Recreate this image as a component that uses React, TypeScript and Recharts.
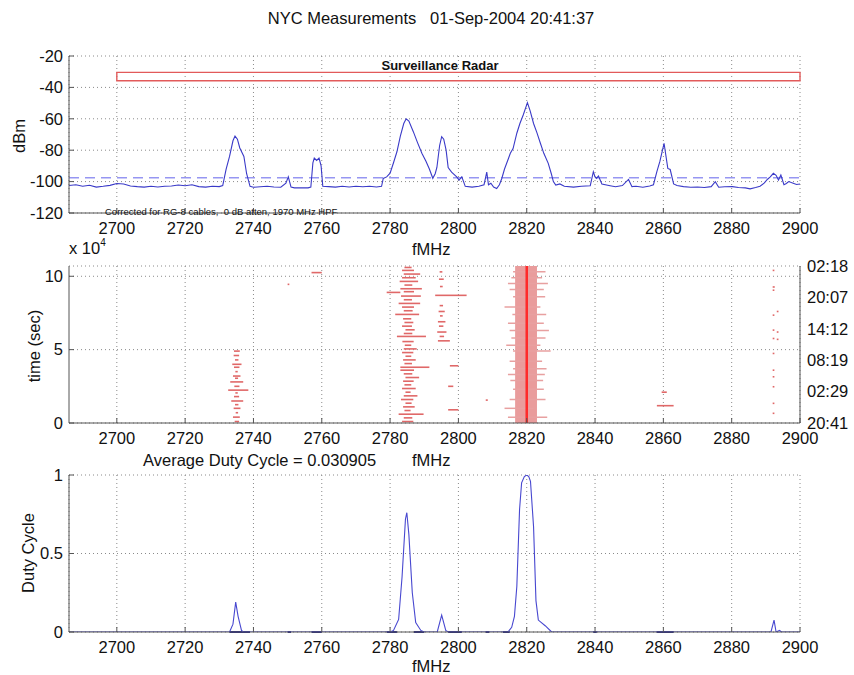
import { ComposedChart, Line, Area, Scatter, ErrorBar, XAxis, YAxis, CartesianGrid, ReferenceLine, ReferenceArea } from 'recharts'

// axes
const freqDomain = [2686, 2900]
const freqTicks = [2700, 2720, 2740, 2760, 2780, 2800, 2820, 2840, 2860, 2880, 2900]
const dbmTicks = [-120, -100, -80, -60, -40, -20]
const timeTicks = [0, 5, 10]
const clockTicks = [0, 2.14, 4.28, 6.42, 8.56, 10.7]
const clockLabels = ['20:41', '02:29', '08:19', '14:12', '20:07', '02:18']
const dutyTicks = [0, 0.5, 1]

// top panel: spectrum [fMHz, dBm]
const spectrum: [number, number][] = [
  [2686, -102.5], [2688, -102], [2690, -103], [2692, -102.3], [2694, -103.5], [2696, -103], [2698, -102.4],
  [2700, -101.2], [2702, -101.5], [2704, -102.8], [2706, -103.2], [2708, -103.5], [2710, -103], [2712, -103.4],
  [2714, -103], [2716, -102.8], [2718, -102.2], [2720, -102.6], [2722, -102], [2724, -103.2], [2726, -103.5],
  [2728, -103], [2730, -103.2], [2731, -102.5], [2732, -92], [2733, -84], [2734, -74], [2734.6, -71],
  [2735.3, -73], [2736, -78.6], [2737.2, -84], [2738, -95], [2739, -103], [2740, -103.6], [2742, -103.3],
  [2744, -103], [2746, -103.4], [2748, -103.6], [2749.5, -101], [2750.2, -97], [2751, -103.5], [2752, -104],
  [2754, -104], [2756, -104], [2756.8, -103.5], [2757.4, -88], [2757.8, -85], [2758.5, -86.5], [2759.2, -85],
  [2759.8, -90], [2760.3, -103], [2762, -103.2], [2764, -103.5], [2766, -103], [2768, -103.4], [2770, -103],
  [2772, -103.3], [2774, -103], [2776, -103.4], [2777.5, -103], [2778, -98], [2779, -97], [2780, -94.6],
  [2781, -88], [2782, -81], [2783, -71], [2784, -63], [2784.7, -60], [2785.5, -61.5], [2786.8, -68.2],
  [2788, -75], [2789.3, -81.9], [2790.5, -87], [2791.5, -92], [2792.5, -97.9], [2793.2, -95], [2793.7, -91],
  [2794.5, -77], [2795.1, -71.4], [2795.7, -73], [2796.4, -80], [2797, -91], [2798, -94], [2799.5, -97],
  [2800.2, -99], [2801, -96.9], [2802, -103], [2804, -103.5], [2806, -103], [2807.5, -102], [2808.3, -94],
  [2808.8, -102], [2809.5, -101], [2810.3, -103.5], [2811.2, -104.4], [2812, -102], [2812.7, -98],
  [2813.5, -92], [2814.7, -85], [2815.2, -82], [2816, -79], [2817.1, -69.2], [2818, -63], [2819, -57.4],
  [2820.2, -49.7], [2821, -55], [2822, -63], [2823, -69], [2824, -75.6], [2825, -82], [2826.3, -88.4],
  [2827.2, -95], [2827.8, -100], [2828.5, -102.2], [2829.7, -101.5], [2831, -103], [2833.7, -103.5],
  [2836, -103], [2838.6, -102.6], [2839.5, -93.7], [2840, -97], [2840.4, -98], [2841, -96.5], [2842, -101.5],
  [2844.4, -102.6], [2846, -103.3], [2848, -102.5], [2849.8, -98.6], [2850.8, -103.2], [2852, -103],
  [2854, -103.6], [2856, -102.8], [2857.1, -102], [2858.1, -93.7], [2859, -87], [2860.2, -75.6],
  [2861.3, -91.6], [2862, -92.3], [2863, -101.5], [2864, -102.5], [2865.9, -103.2], [2868, -103.6],
  [2870, -103.4], [2872, -103.8], [2874, -103.2], [2875.2, -100], [2876.2, -103.6], [2878, -103.3],
  [2880.2, -103.2], [2882, -103.8], [2884, -104], [2885.4, -104.6], [2887, -103.8], [2888.3, -103],
  [2889.5, -101], [2890.5, -98.5], [2891.3, -97], [2892.2, -94.7], [2893, -96], [2893.7, -99],
  [2894.4, -95.8], [2895.3, -102], [2896, -101.2], [2896.7, -100], [2898, -101], [2899, -101.8], [2900, -101.5],
]
const thresholdDbm = -97.5
const radarBand = { f1: 2700, f2: 2900, top: -30.4, bottom: -35.8 }

// middle panel: detections [time x1e4 s, f low, f high]
const hits2735: [number, number, number][] = [
  [0.1, 2734.5, 2735.8], [0.4, 2734, 2736], [0.7, 2734.8, 2735.5], [1.0, 2734.2, 2736.2], [1.25, 2734.6, 2735.6],
  [1.5, 2733.5, 2737], [1.8, 2734.3, 2735.8], [2.05, 2734.7, 2735.4], [2.24, 2732.6, 2738.5], [2.5, 2734.4, 2735.9],
  [2.8, 2733.2, 2737], [3.05, 2734.6, 2735.5], [3.2, 2734, 2736.2], [3.5, 2734.7, 2735.4], [3.8, 2734.3, 2735.9],
  [4.0, 2733.8, 2736.5], [4.3, 2734.6, 2735.6], [4.6, 2734.2, 2735.8], [4.9, 2734.3, 2736],
]
const hits2785: [number, number, number][] = [
  [0.1, 2783.5, 2786.8], [0.35, 2784, 2786.5], [0.6, 2782.5, 2789.8], [0.85, 2784.2, 2786], [1.1, 2783.8, 2787.2],
  [1.35, 2784.5, 2786.3], [1.6, 2783.2, 2786.8], [1.85, 2784, 2788], [2.1, 2784.5, 2786], [2.35, 2783.5, 2787.5],
  [2.6, 2784.2, 2786.2], [2.85, 2783.8, 2786.9], [3.1, 2784.5, 2788.5], [3.35, 2784, 2786.5], [3.6, 2783, 2787],
  [3.8, 2783, 2791.5], [4.05, 2784.2, 2786.4], [4.3, 2783.8, 2787.5], [4.55, 2784.5, 2786.2], [4.8, 2783.5, 2786.8],
  [5.05, 2784, 2787.8], [5.3, 2784.3, 2786.2], [5.55, 2783.6, 2786.9], [5.9, 2782, 2790.5], [6.1, 2784, 2786.5],
  [6.35, 2784.5, 2787.2], [6.6, 2783.5, 2786.4], [6.85, 2784.2, 2786.8], [7.1, 2783.8, 2786.2], [7.4, 2781.5, 2788.5],
  [7.65, 2784, 2786.6], [7.9, 2783.5, 2787], [8.15, 2782.5, 2788.8], [8.4, 2784, 2786.4], [8.65, 2783.2, 2789],
  [8.9, 2779, 2783], [8.95, 2784, 2787], [9.15, 2783, 2789.3], [9.4, 2784.2, 2786.5], [9.65, 2782.8, 2788.2],
  [9.9, 2783.5, 2787.5], [10.15, 2784, 2788.8], [10.4, 2783.5, 2787], [10.6, 2784.2, 2786.3],
]
const hits2795: [number, number, number][] = [
  [5.6, 2794, 2797.5], [5.9, 2794.5, 2795.8], [6.2, 2793.8, 2796.5], [6.6, 2794.3, 2795.6], [6.9, 2794, 2796.2],
  [7.3, 2794.6, 2795.4], [7.6, 2794.2, 2796], [8.0, 2794.5, 2795.5], [8.7, 2793.2, 2802.4], [9.3, 2794.6, 2795.4],
  [9.8, 2794.3, 2795.7], [10.3, 2794.5, 2795.3], [3.9, 2797.5, 2800], [2.5, 2797, 2798.5], [0.9, 2797, 2800],
]
const hits2820: [number, number, number][] = [
  [0.4, 2814.5, 2826], [1.0, 2813.5, 2822], [1.6, 2815, 2825.5], [2.3, 2816, 2825], [2.9, 2815.2, 2824.8],
  [3.3, 2814.5, 2825.3], [3.7, 2816, 2825.8], [4.2, 2815, 2824.5], [4.9, 2816, 2827], [5.3, 2814, 2824],
  [5.8, 2815.5, 2825.5], [6.3, 2815, 2826.5], [6.8, 2814.5, 2825], [7.4, 2815.8, 2825.7], [7.9, 2813.5, 2824],
  [8.6, 2816, 2825.4], [9.1, 2815, 2825], [9.5, 2814.5, 2826.2], [9.9, 2815.5, 2824.5], [10.3, 2816, 2825.5],
]
const hitsOther: [number, number, number][] = [
  [10.25, 2757, 2760], [9.45, 2750, 2750.5], [1.56, 2808, 2808.6], [1.18, 2858.1, 2863], [2.1, 2859.5, 2861],
  [10.4, 2892, 2892.5], [9.27, 2892, 2892.6], [9.05, 2892, 2892.5], [7.35, 2892, 2892.5], [6.33, 2892, 2892.5],
  [5.76, 2892, 2892.5], [4.74, 2892, 2892.5], [3.6, 2892, 2892.5], [3.15, 2892, 2892.5], [2.47, 2892, 2892.5],
  [1.34, 2892, 2892.5], [0.66, 2892, 2892.5], [7.6, 2893.2, 2893.7], [6.2, 2893.2, 2893.7], [5.7, 2893.2, 2893.7],
]
const coreBand = { f1: 2816.6, f2: 2823, tEnd: 10.7 }
const coreCarrier = { f: 2820, tStart: 0, tEnd: 10.7 }

// bottom panel: duty cycle [fMHz, duty]
const duty: [number, number][] = [
  [2686, 0], [2733, 0], [2734, 0.05], [2734.8, 0.19], [2735.5, 0.1], [2736.5, 0.01], [2737, 0], [2780, 0],
  [2781, 0.01], [2782.5, 0.08], [2783.5, 0.35], [2784.5, 0.72], [2784.9, 0.76], [2785.5, 0.62], [2786.5, 0.25],
  [2787.5, 0.06], [2789, 0.01], [2790, 0], [2793.8, 0], [2795.1, 0.108], [2796.3, 0.01], [2797, 0], [2814.5, 0],
  [2815.6, 0.03], [2816.4, 0.1], [2817.1, 0.29], [2817.9, 0.78], [2818.5, 0.95], [2819.3, 0.99], [2820, 1.0],
  [2820.6, 0.99], [2821.1, 0.96], [2822, 0.67], [2822.7, 0.2], [2823.4, 0.076], [2825.4, 0.04], [2827.3, 0],
  [2891.5, 0], [2892.4, 0.076], [2893, 0], [2894, 0.01], [2894.6, 0], [2900, 0],
]
const dutyLow: [number, number][] = [
  [2733, 2739], [2750, 2751], [2757, 2760], [2779, 2782], [2787, 2790], [2797, 2801], [2808, 2809],
  [2813, 2815], [2839.5, 2840.5], [2858, 2863],
]

const spectrumRows = spectrum.map(([f, dbm]) => ({ f, dbm }))
const toHits = (segs: [number, number, number][]) => segs.map(([t, lo, hi]) => ({ f: (lo + hi) / 2, t, e: (hi - lo) / 2 }))
const hitRows = [...toHits(hits2735), ...toHits(hits2785), ...toHits(hits2795), ...toHits(hitsOther)]
const spurRows = toHits(hits2820)
const bandRows = [{ f: coreBand.f1, t: coreBand.tEnd }, { f: coreBand.f2, t: coreBand.tEnd }]
const carrierRows = [{ f: coreCarrier.f, t: (coreCarrier.tStart + coreCarrier.tEnd) / 2, ey: (coreCarrier.tEnd - coreCarrier.tStart) / 2 }]
// the carrier hides the 2820 grid line in the waterfall
const waterfallGridX = freqTicks.filter((f) => f !== coreCarrier.f)
const dutyRows = duty.map(([f, v]) => ({ f, v }))
const dutyLowRows = dutyLow.map(([lo, hi]) => ({ f: (lo + hi) / 2, v: 0, e: (hi - lo) / 2 }))

const AXIS = '#555'
const GRID = '#8a8a8a'
const FS = 16.5
const tickStyle = { fill: '#111', fontSize: FS }
const blank = () => ''
const noDot = () => <g />

function Txt({ x, y, size = FS, rotate = false, center = true, bold = false, children }: any) {
  const tf = rotate ? 'translate(-50%,-50%) rotate(-90deg)' : center ? 'translate(-50%,-50%)' : 'translate(0,-50%)'
  return (
    <div style={{ position: 'absolute', left: x, top: y, transform: tf, fontSize: size, fontWeight: bold ? 'bold' : 'normal', whiteSpace: 'pre', lineHeight: 1, color: '#111' }}>
      {children}
    </div>
  )
}

export default function App() {
  return (
    <div style={{ position: 'absolute', left: 0, top: 0, width: 854, height: 675, background: '#fff', fontFamily: '"Liberation Sans", Arial, sans-serif', overflow: 'hidden' }}>
      <div style={{ position: 'absolute', left: 0, top: 0 }}>
        <ComposedChart width={854} height={240} data={spectrumRows} margin={{ top: 56, right: 54, bottom: 0, left: 0 }}>
          <CartesianGrid stroke={GRID} strokeDasharray='1 3' />
          <XAxis dataKey='f' type='number' domain={freqDomain} ticks={freqTicks} interval={0} height={27} tickSize={-5} tickMargin={14} tick={tickStyle} stroke={AXIS} allowDataOverflow />
          <XAxis xAxisId='top' orientation='top' type='number' domain={freqDomain} ticks={freqTicks} interval={0} height={0} tickSize={-5} tickFormatter={blank} stroke={AXIS} allowDataOverflow />
          <YAxis type='number' domain={[-120, -20]} ticks={dbmTicks} interval={0} width={69} tickSize={-5} tickMargin={11} tick={tickStyle} stroke={AXIS} allowDataOverflow />
          <YAxis yAxisId='r' orientation='right' type='number' domain={[-120, -20]} ticks={dbmTicks} interval={0} width={0} tickSize={-5} tickFormatter={blank} stroke={AXIS} allowDataOverflow />
          <ReferenceArea x1={radarBand.f1} x2={radarBand.f2} y1={radarBand.bottom} y2={radarBand.top} fill='none' stroke='#e25a5a' strokeWidth={1.4} />
          <ReferenceLine y={thresholdDbm} stroke='#9696f2' strokeDasharray='10 6' strokeWidth={1.6} />
          <Line dataKey='dbm' type='linear' dot={false} stroke='#3a3ac8' strokeWidth={1.1} isAnimationActive={false} />
        </ComposedChart>
      </div>

      <div style={{ position: 'absolute', left: 0, top: 240 }}>
        <ComposedChart width={854} height={215} margin={{ top: 26, right: 0, bottom: 0, left: 0 }}>
          <CartesianGrid stroke={GRID} strokeDasharray='1 3' verticalValues={waterfallGridX} />
          <XAxis dataKey='f' type='number' domain={freqDomain} ticks={freqTicks} interval={0} height={32} tickSize={-5} tickMargin={14} tick={tickStyle} stroke={AXIS} allowDataOverflow />
          <XAxis xAxisId='top' orientation='top' type='number' domain={freqDomain} ticks={freqTicks} interval={0} height={0} tickSize={-5} tickFormatter={blank} stroke={AXIS} allowDataOverflow />
          <YAxis dataKey='t' type='number' domain={[0, 10.7]} ticks={timeTicks} interval={0} width={69} tickSize={-5} tickMargin={11} tick={tickStyle} stroke={AXIS} allowDataOverflow />
          <YAxis yAxisId='clock' orientation='right' type='number' domain={[0, 10.7]} ticks={clockTicks} interval={0} width={54} tickSize={0} tickLine={false} tickMargin={7} tick={tickStyle} tickFormatter={(v: number) => clockLabels[clockTicks.indexOf(v)] ?? ''} stroke={AXIS} allowDataOverflow />
          <Area data={bandRows} dataKey='t' type='linear' stroke='none' fill='#e99c9c' fillOpacity={1} dot={false} activeDot={false} isAnimationActive={false} />
          <Scatter data={spurRows} dataKey='t' shape={noDot} isAnimationActive={false}>
            <ErrorBar dataKey='e' direction='x' width={0} stroke='#e8a0a0' strokeWidth={1.5} />
          </Scatter>
          <Scatter data={hitRows} dataKey='t' shape={noDot} isAnimationActive={false}>
            <ErrorBar dataKey='e' direction='x' width={0} stroke='#e06868' strokeWidth={1.6} />
          </Scatter>
          <Scatter data={carrierRows} dataKey='t' shape={noDot} isAnimationActive={false}>
            <ErrorBar dataKey='ey' direction='y' width={0} stroke='#ff2a2a' strokeWidth={2.5} />
          </Scatter>
        </ComposedChart>
      </div>

      <div style={{ position: 'absolute', left: 0, top: 455 }}>
        <ComposedChart width={854} height={220} data={dutyRows} margin={{ top: 20, right: 54, bottom: 0, left: 0 }}>
          <CartesianGrid stroke={GRID} strokeDasharray='1 3' />
          <XAxis dataKey='f' type='number' domain={freqDomain} ticks={freqTicks} interval={0} height={43} tickSize={-5} tickMargin={14} tick={tickStyle} stroke={AXIS} allowDataOverflow />
          <XAxis xAxisId='top' orientation='top' type='number' domain={freqDomain} ticks={freqTicks} interval={0} height={0} tickSize={-5} tickFormatter={blank} stroke={AXIS} allowDataOverflow />
          <YAxis type='number' domain={[0, 1]} ticks={dutyTicks} interval={0} width={69} tickSize={-5} tickMargin={11} tick={tickStyle} stroke={AXIS} allowDataOverflow />
          <YAxis yAxisId='r' orientation='right' type='number' domain={[0, 1]} ticks={dutyTicks} interval={0} width={0} tickSize={-5} tickFormatter={blank} stroke={AXIS} allowDataOverflow />
          <Scatter data={dutyLowRows} dataKey='v' shape={noDot} isAnimationActive={false}>
            <ErrorBar dataKey='e' direction='x' width={0} stroke='#24248a' strokeWidth={2} />
          </Scatter>
          <Line dataKey='v' type='linear' dot={false} stroke='#4848d0' strokeWidth={1.1} isAnimationActive={false} />
        </ComposedChart>
      </div>

      <Txt x={431} y={18}>{'NYC Measurements   01-Sep-2004 20:41:37'}</Txt>
      <Txt x={440} y={65} size={13} bold>Surveillance Radar</Txt>
      <Txt x={105} y={212} size={9.5} center={false}>{'Corrected for RG-8 cables,  0 dB atten, 1970 MHz HPF'}</Txt>
      <Txt x={19} y={136} rotate>dBm</Txt>
      <Txt x={412} y={249} center={false}>fMHz</Txt>
      <Txt x={69} y={247} center={false}>x 10<sup style={{ fontSize: 10, verticalAlign: 8 }}>4</sup></Txt>
      <Txt x={34} y={346} rotate>time (sec)</Txt>
      <Txt x={143} y={460} center={false}>Average Duty Cycle = 0.030905</Txt>
      <Txt x={412} y={460} center={false}>fMHz</Txt>
      <Txt x={28} y={553} rotate>Duty Cycle</Txt>
      <Txt x={412} y={666} center={false}>fMHz</Txt>
    </div>
  )
}
